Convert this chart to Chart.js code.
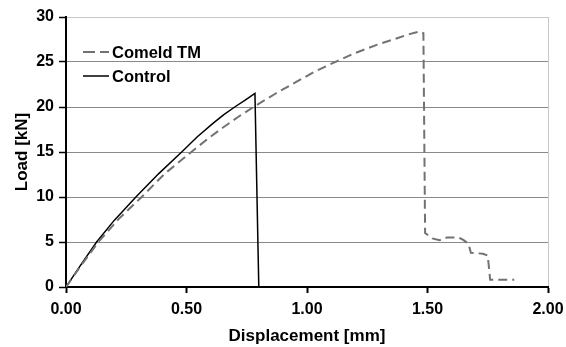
<!DOCTYPE html>
<html lang="en">
<head>
    <meta charset="UTF-8">
    <title>Load vs Displacement</title>
    <style>
        body {
            margin: 0;
            background-color: #fff;
        }
        .wrap {
            width: 566px;
            height: 347px;
        }
    </style>
    <script src="https://cdn.jsdelivr.net/npm/chart.js"></script>
</head>
<body>
    <div class="wrap">
        <canvas id="loadChart" width="566" height="347"></canvas>
    </div>

    <script>
        // Datos
        const comeldX = [0, 0.06, 0.134, 0.22, 0.314, 0.41, 0.52, 0.585, 0.65, 0.72, 0.79, 0.87, 0.95, 1.03,
                         1.109, 1.2, 1.289, 1.335, 1.38, 1.425, 1.469, 1.483,
                         1.49, 1.52, 1.55, 1.58, 1.63, 1.65, 1.67, 1.68, 1.73, 1.75, 1.76, 1.86];
        const comeldY = [0, 2.3, 5, 7.6, 10, 12.6, 15, 16.4, 17.7, 19.0, 20.2, 21.5, 22.7, 23.9,
                         24.9, 26.0, 26.9, 27.3, 27.7, 28.1, 28.4, 28.2,
                         6.0, 5.4, 5.2, 5.5, 5.5, 5.2, 4.8, 3.8, 3.7, 3.5, 0.8, 0.8];
        const controlX = [0, 0.06, 0.127, 0.2, 0.29, 0.385, 0.48, 0.545, 0.611, 0.655, 0.70, 0.745, 0.784, 0.80, 0.895];
        const controlY = [0, 2.4, 5, 7.4, 10, 12.6, 15, 16.7, 18.2, 19.15, 20, 20.8, 21.5, 0, 0];
        const xTicks = [0, 0.5, 1, 1.5, 2];
        const yTicks = [0, 5, 10, 15, 20, 25, 30];

        function toPoints(xs, ys) {
            return xs.map((x, i) => ({ x: x, y: ys[i] }));
        }

        const fam = 'Arial, "Liberation Sans", sans-serif';
        const tickFont = { family: fam, size: 16, weight: 'bold' };
        const titleFont = { family: fam, size: 17, weight: 'bold' };

        // leyenda dentro del area del grafico
        const insideLegend = {
            id: 'insideLegend',
            afterDraw(chart) {
                const ctx = chart.ctx;
                const left = chart.chartArea.left + 17;
                const top = chart.chartArea.top + 35;
                chart.data.datasets.forEach((ds, i) => {
                    const y = top + i * 24;
                    ctx.save();
                    ctx.strokeStyle = ds.borderColor;
                    ctx.lineWidth = ds.borderWidth;
                    ctx.setLineDash(ds.borderDash ? [12, 5] : []);
                    ctx.beginPath();
                    ctx.moveTo(left, y);
                    ctx.lineTo(left + 26, y);
                    ctx.stroke();
                    ctx.setLineDash([]);
                    ctx.fillStyle = '#000';
                    ctx.font = 'bold 16.5px ' + fam;
                    ctx.textBaseline = 'middle';
                    ctx.fillText(ds.label, left + 29, y + 1);
                    ctx.restore();
                });
            }
        };

        const loadChart = new Chart(document.getElementById('loadChart'), {
            type: 'scatter',
            data: {
                datasets: [{
                    label: 'Comeld TM',
                    data: toPoints(comeldX, comeldY),
                    showLine: true,
                    borderColor: '#727272',
                    borderWidth: 2,
                    borderDash: [9, 5],
                    pointRadius: 0,
                    tension: 0
                }, {
                    label: 'Control',
                    data: toPoints(controlX, controlY),
                    showLine: true,
                    borderColor: '#000',
                    borderWidth: 1.5,
                    pointRadius: 0,
                    tension: 0
                }]
            },
            options: {
                responsive: false,
                animation: false,
                layout: { padding: { top: 17, right: 18, left: 0, bottom: 0 } },
                plugins: {
                    legend: { display: false },
                    tooltip: { enabled: false }
                },
                scales: {
                    x: {
                        type: 'linear',
                        min: 0,
                        max: 2,
                        afterBuildTicks: (scale) => { scale.ticks = xTicks.map(v => ({ value: v })); },
                        afterFit: (scale) => {
                            scale.height = 60;
                            scale.paddingLeft = 0;
                            scale.paddingRight = 0;
                        },
                        ticks: {
                            color: '#000',
                            font: tickFont,
                            padding: 7,
                            maxRotation: 0,
                            callback: (v) => Number(v).toFixed(2)
                        },
                        grid: {
                            color: (c) => (c.tick && c.tick.value === 2) ? '#c8c8c8' : 'rgba(0,0,0,0)',
                            tickColor: '#000',
                            tickLength: 6,
                            tickWidth: 2
                        },
                        border: { color: '#000', width: 2 },
                        title: {
                            display: true,
                            text: 'Displacement [mm]',
                            color: '#000',
                            font: titleFont,
                            padding: { top: 4, bottom: 0 }
                        }
                    },
                    y: {
                        min: 0,
                        max: 30,
                        afterBuildTicks: (scale) => { scale.ticks = yTicks.map(v => ({ value: v })); },
                        afterFit: (scale) => { scale.width = 66; },
                        ticks: {
                            color: '#000',
                            font: tickFont,
                            padding: 5
                        },
                        grid: {
                            color: (c) => (c.tick && c.tick.value === 30) ? '#c8c8c8' : '#8a8a8a',
                            tickColor: '#000',
                            tickLength: 7,
                            tickWidth: 1.5
                        },
                        border: { color: '#000', width: 2 },
                        title: {
                            display: true,
                            text: 'Load [kN]',
                            color: '#000',
                            font: titleFont,
                            padding: { top: 12, bottom: 0 }
                        }
                    }
                }
            },
            plugins: [insideLegend]
        });
    </script>
</body>
</html>
